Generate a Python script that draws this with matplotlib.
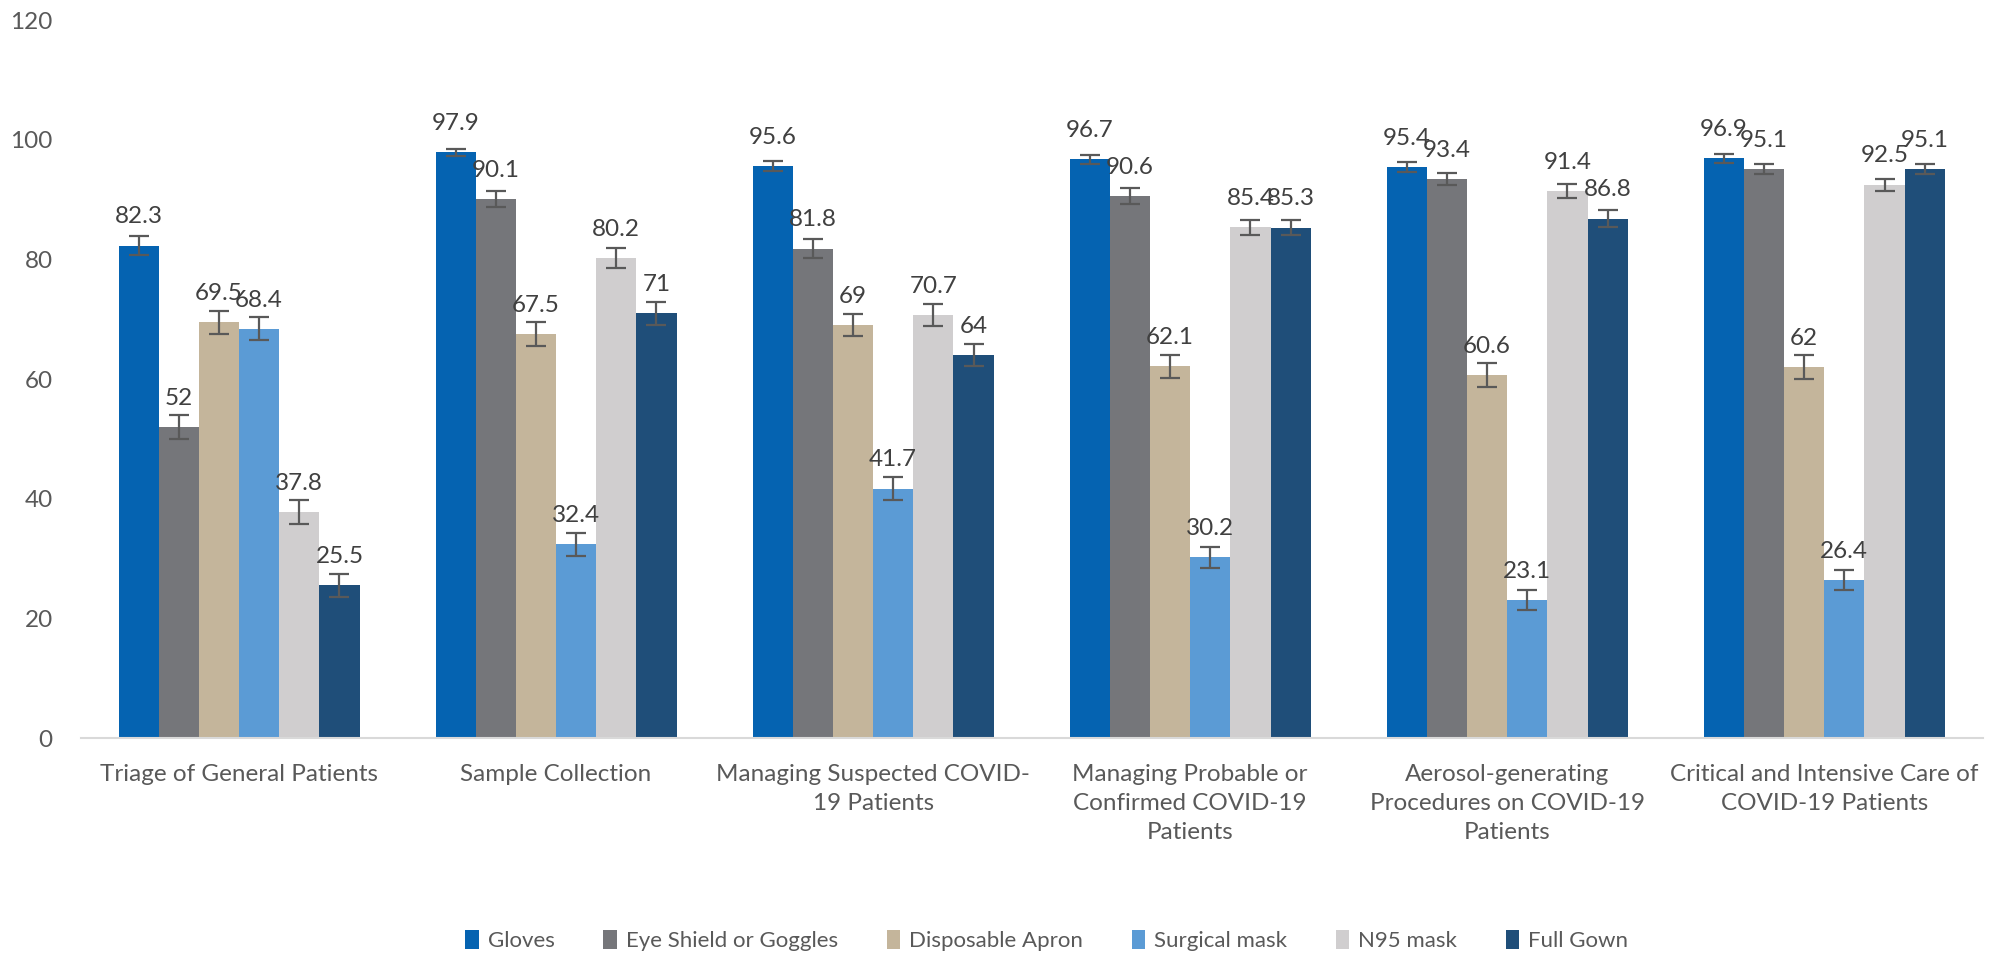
import matplotlib.pyplot as plt
import numpy as np

categories = [
    "Triage of General Patients",
    "Sample Collection",
    "Managing Suspected COVID-\n19 Patients",
    "Managing Probable or\nConfirmed COVID-19\nPatients",
    "Aerosol-generating\nProcedures on COVID-19\nPatients",
    "Critical and Intensive Care of\nCOVID-19 Patients",
]
series_names = ["Gloves", "Eye Shield or Goggles", "Disposable Apron",
                "Surgical mask", "N95 mask", "Full Gown"]

gloves = [82.3, 97.9, 95.6, 96.7, 95.4, 96.9]
eye_shield = [52, 90.1, 81.8, 90.6, 93.4, 95.1]
apron = [69.5, 67.5, 69, 62.1, 60.6, 62]
surgical = [68.4, 32.4, 41.7, 30.2, 23.1, 26.4]
n95 = [37.8, 80.2, 70.7, 85.4, 91.4, 92.5]
gown = [25.5, 71, 64, 85.3, 86.8, 95.1]

# error bar half widths
gloves_err = [1.6, 0.6, 0.8, 0.7, 0.8, 0.75]
eye_shield_err = [2.0, 1.4, 1.6, 1.35, 1.0, 0.85]
apron_err = [1.9, 2.0, 1.85, 1.95, 2.0, 1.95]
surgical_err = [1.9, 1.95, 1.95, 1.8, 1.7, 1.7]
n95_err = [2.0, 1.7, 1.8, 1.25, 1.15, 1.0]
gown_err = [1.85, 1.9, 1.85, 1.25, 1.45, 0.8]

colors = ["#0563B1", "#75767A", "#C4B59B", "#5B9BD5", "#D0CECF", "#1F4E79"]

values = [gloves, eye_shield, apron, surgical, n95, gown]
errors = [gloves_err, eye_shield_err, apron_err, surgical_err, n95_err, gown_err]

plt.rcParams["font.family"] = ["Lato", "DejaVu Sans"]

fig = plt.figure(figsize=(20.13, 9.56), dpi=100)
ax = fig.add_axes([0.040, 0.228, 0.945, 0.751])

x = np.arange(len(categories))
group_w = 0.76
bar_w = group_w / len(series_names)

for i, (name, vals, errs, col) in enumerate(zip(series_names, values, errors, colors)):
    pos = x - group_w / 2 + bar_w * (i + 0.5)
    ax.bar(pos, vals, width=bar_w, color=col, label=name, zorder=2)
    ax.errorbar(pos, vals, yerr=errs, fmt="none", ecolor="#595959",
                elinewidth=1.6, capsize=7, capthick=1.6, zorder=3)
    for px, v in zip(pos, vals):
        ax.annotate(f"{v:g}", (px, v), xytext=(0, 16), textcoords="offset points",
                    ha="center", va="baseline", fontsize=17.5, color="#404040")

ax.set_ylim(0, 120)
ax.set_xlim(-0.5, len(categories) - 0.5)
ax.set_yticks(range(0, 121, 20))
ax.set_xticks(x)
ax.set_xticklabels(categories, fontsize=17.5, color="#595959", linespacing=1.45)
ax.tick_params(axis="y", labelsize=17.5, labelcolor="#595959", length=0, pad=20)
ax.tick_params(axis="x", length=0, pad=19)
for s in ["top", "right", "left"]:
    ax.spines[s].set_visible(False)
ax.spines["bottom"].set_color("#D9D9D9")
ax.spines["bottom"].set_linewidth(1.5)

fig.legend(loc="center", bbox_to_anchor=(0.52, 0.016), ncol=6, frameon=False,
           fontsize=16, labelcolor="#595959", handlelength=0.6, handleheight=0.9,
           handletextpad=0.4, columnspacing=2.2)

fig.savefig("out.png", dpi=100)
